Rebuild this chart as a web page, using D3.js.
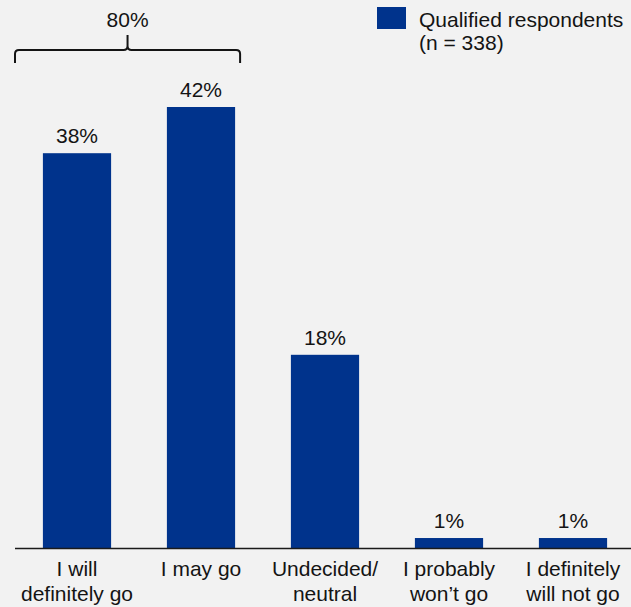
<!DOCTYPE html>
<html>
<head>
<meta charset="utf-8">
<script src="https://cdn.jsdelivr.net/npm/d3@7"></script>
<style>
     html, body { margin: 0; padding: 0; background: #f2f2f2; }
     svg { display: block; }
     text { font-family: 'Liberation Sans', Arial, sans-serif; fill: #141414; }
</style>
</head>
<body>
<div id="chart"></div>
<script>
// ── Data ──────────────────────────────────────────────
const categories = [
     ['I will', 'definitely go'],
     ['I may go'],
     ['Undecided/', 'neutral'],
     ['I probably', 'won\u2019t go'],
     ['I definitely', 'will not go']
];
const shares = [37.6, 42.0, 18.4, 0.95, 0.95];   // % of qualified respondents
const seriesName = ['Qualified respondents', '(n = 338)'];
const bracketLabel = '80%';

const W = 631, H = 607;
const BLUE = '#00338c';
const FS = '21px';

const svg = d3.select('#chart').append('svg')
     .attr('width', W).attr('height', H)
     .attr('viewBox', `0 0 ${W} ${H}`);

const keys = categories.map((_, i) => i);
const x = d3.scaleBand().domain(keys).range([15, 635]).paddingInner(0.45).paddingOuter(0.225);
const y = d3.scaleLinear().domain([0, 42]).range([548, 107]);

// bars
svg.selectAll('.bar')
     .data(shares)
     .join('rect')
     .attr('class', 'bar')
     .attr('x', (d, i) => x(i))
     .attr('y', d => y(d))
     .attr('width', x.bandwidth())
     .attr('height', d => y(0) - y(d))
     .attr('fill', BLUE);

// value labels
svg.selectAll('.val')
     .data(shares)
     .join('text')
     .attr('class', 'val')
     .attr('x', (d, i) => x(i) + x.bandwidth() / 2)
     .attr('y', d => y(d) - 10)
     .attr('text-anchor', 'middle')
     .attr('font-size', FS)
     .text(d => Math.round(d) + '%');

// baseline
svg.append('line')
     .attr('x1', 15).attr('x2', W)
     .attr('y1', y(0) + 0.5).attr('y2', y(0) + 0.5)
     .attr('stroke', '#1a1a1a').attr('stroke-width', 1.5);

// category labels
const cat = svg.selectAll('.cat')
     .data(categories)
     .join('text')
     .attr('class', 'cat')
     .attr('text-anchor', 'middle')
     .attr('font-size', FS);
cat.selectAll('tspan')
     .data((d, i) => d.map(line => ({ line, i })))
     .join('tspan')
     .attr('x', d => x(d.i) + x.bandwidth() / 2)
     .attr('y', (d, j) => 576 + j * 25)
     .text(d => d.line);

// bracket over the first two bars
const bx0 = x(0) - x.step() * x.paddingOuter();
const bx1 = x(1) + x.bandwidth() + 5;
const mid = (bx0 + bx1) / 2;
const by = 50, r = 4;
const p = d3.path();
p.moveTo(bx0, 63); p.lineTo(bx0, by + r);
p.quadraticCurveTo(bx0, by, bx0 + r, by);
p.lineTo(mid - r, by);
p.quadraticCurveTo(mid, by, mid, by - r);
p.lineTo(mid, 35);
p.moveTo(mid, by - r);
p.quadraticCurveTo(mid, by, mid + r, by);
p.lineTo(bx1 - r, by);
p.quadraticCurveTo(bx1, by, bx1, by + r);
p.lineTo(bx1, 63);
svg.append('path')
     .attr('d', p.toString())
     .attr('fill', 'none').attr('stroke', '#141414').attr('stroke-width', 2);
svg.append('text')
     .attr('x', mid).attr('y', 27)
     .attr('text-anchor', 'middle')
     .attr('font-size', FS)
     .text(bracketLabel);

// legend
svg.append('rect')
     .attr('x', 377).attr('y', 7).attr('width', 29).attr('height', 22)
     .attr('fill', BLUE);
svg.append('text')
     .attr('font-size', FS)
     .selectAll('tspan')
     .data(seriesName)
     .join('tspan')
     .attr('x', 419)
     .attr('y', (d, i) => 26.5 + i * 23.5)
     .text(d => d);
</script>
</body>
</html>
